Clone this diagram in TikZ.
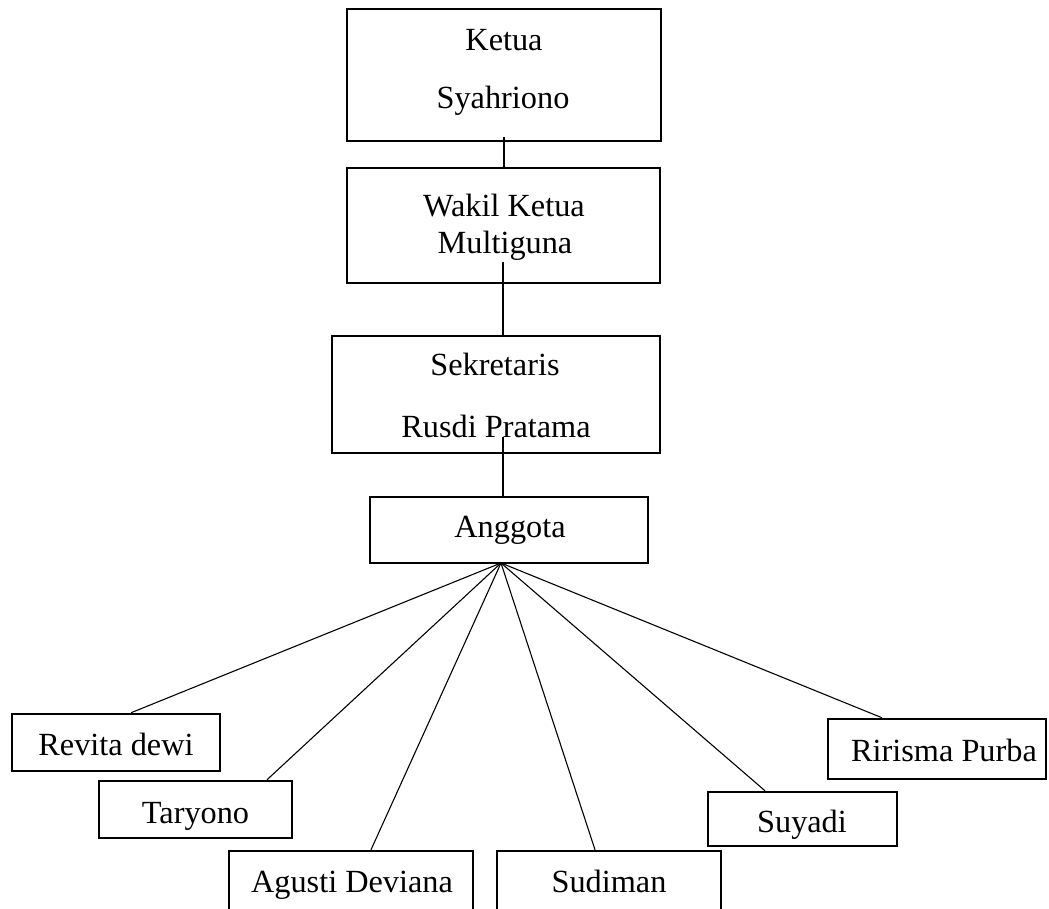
\documentclass[tikz,border=0pt]{standalone}
\usepackage{fontspec}
\setmainfont{Liberation Serif}
\begin{document}
\begin{tikzpicture}[x=1pt,y=-1pt,
  box/.style={draw,line width=2.5pt,rectangle,inner sep=0pt},
  txt/.style={anchor=base,inner sep=0pt,font=\fontsize{32.3}{38}\selectfont},
  conn/.style={line width=1.1pt}]
\clip (0,0) rectangle (1049,908);
\fill[white] (0,0) rectangle (1049,908);
% top chain
\node[box,minimum width=314pt,minimum height=132pt] (ketua) at (504,75) {};
\node[txt] (ketua1) at (504,50) {Ketua};
\node[txt] (ketua2) at (503,108) {Syahriono};
\node[box,minimum width=313pt,minimum height=115pt] (wakil) at (503.5,225.5) {};
\node[txt] (wakil1) at (504,216) {Wakil Ketua};
\node[txt] (wakil2) at (505,253) {Multiguna};
\node[box,minimum width=328pt,minimum height=117pt] (sek) at (496,394.5) {};
\node[txt] (sek1) at (495,375) {Sekretaris};
\node[txt] (sek2) at (496,437) {Rusdi Pratama};
\node[box,minimum width=278pt,minimum height=66pt] (ang) at (509,530) {};
\node[txt] (ang1) at (510,537) {Anggota};
% members
\node[box,minimum width=208pt,minimum height=57pt] (rev) at (116,742.5) {};
\node[txt] (rev1) at (116,755) {Revita dewi};
\node[box,minimum width=193pt,minimum height=57pt] (tar) at (195.5,809.5) {};
\node[txt] (tar1) at (195.5,823) {Taryono};
\node[box,minimum width=244pt,minimum height=80pt] (agu) at (351,891) {};
\node[txt] (agu1) at (352,892) {Agusti Deviana};
\node[box,minimum width=224pt,minimum height=80pt] (sud) at (609,891) {};
\node[txt] (sud1) at (609,892) {Sudiman};
\node[box,minimum width=189pt,minimum height=54pt] (suy) at (802.5,819) {};
\node[txt] (suy1) at (802,832) {Suyadi};
\node[box,minimum width=218pt,minimum height=60pt] (rir) at (937,749) {};
\node[txt] (rir1) at (944,761) {Ririsma Purba};
% connectors
\coordinate (k1) at (504,137);
\draw[conn] (k1) -- (k1 |- wakil.north);
\coordinate (w1) at (503,262);
\draw[conn] (w1) -- (w1 |- sek.north);
\coordinate (s1) at (503,437);
\draw[conn] (s1) -- (s1 |- ang.north);
\coordinate (fan) at (501,563);
\draw[conn] (fan) -- ([xshift=15pt]rev.north);
\draw[conn] (fan) -- ([xshift=71.5pt]tar.north);
\draw[conn] (fan) -- ([xshift=20pt]agu.north);
\draw[conn] (fan) -- ([xshift=-14pt]sud.north);
\draw[conn] (fan) -- ([xshift=-37.5pt]suy.north);
\draw[conn] (fan) -- ([xshift=-55pt]rir.north);
\end{tikzpicture}
\end{document}
